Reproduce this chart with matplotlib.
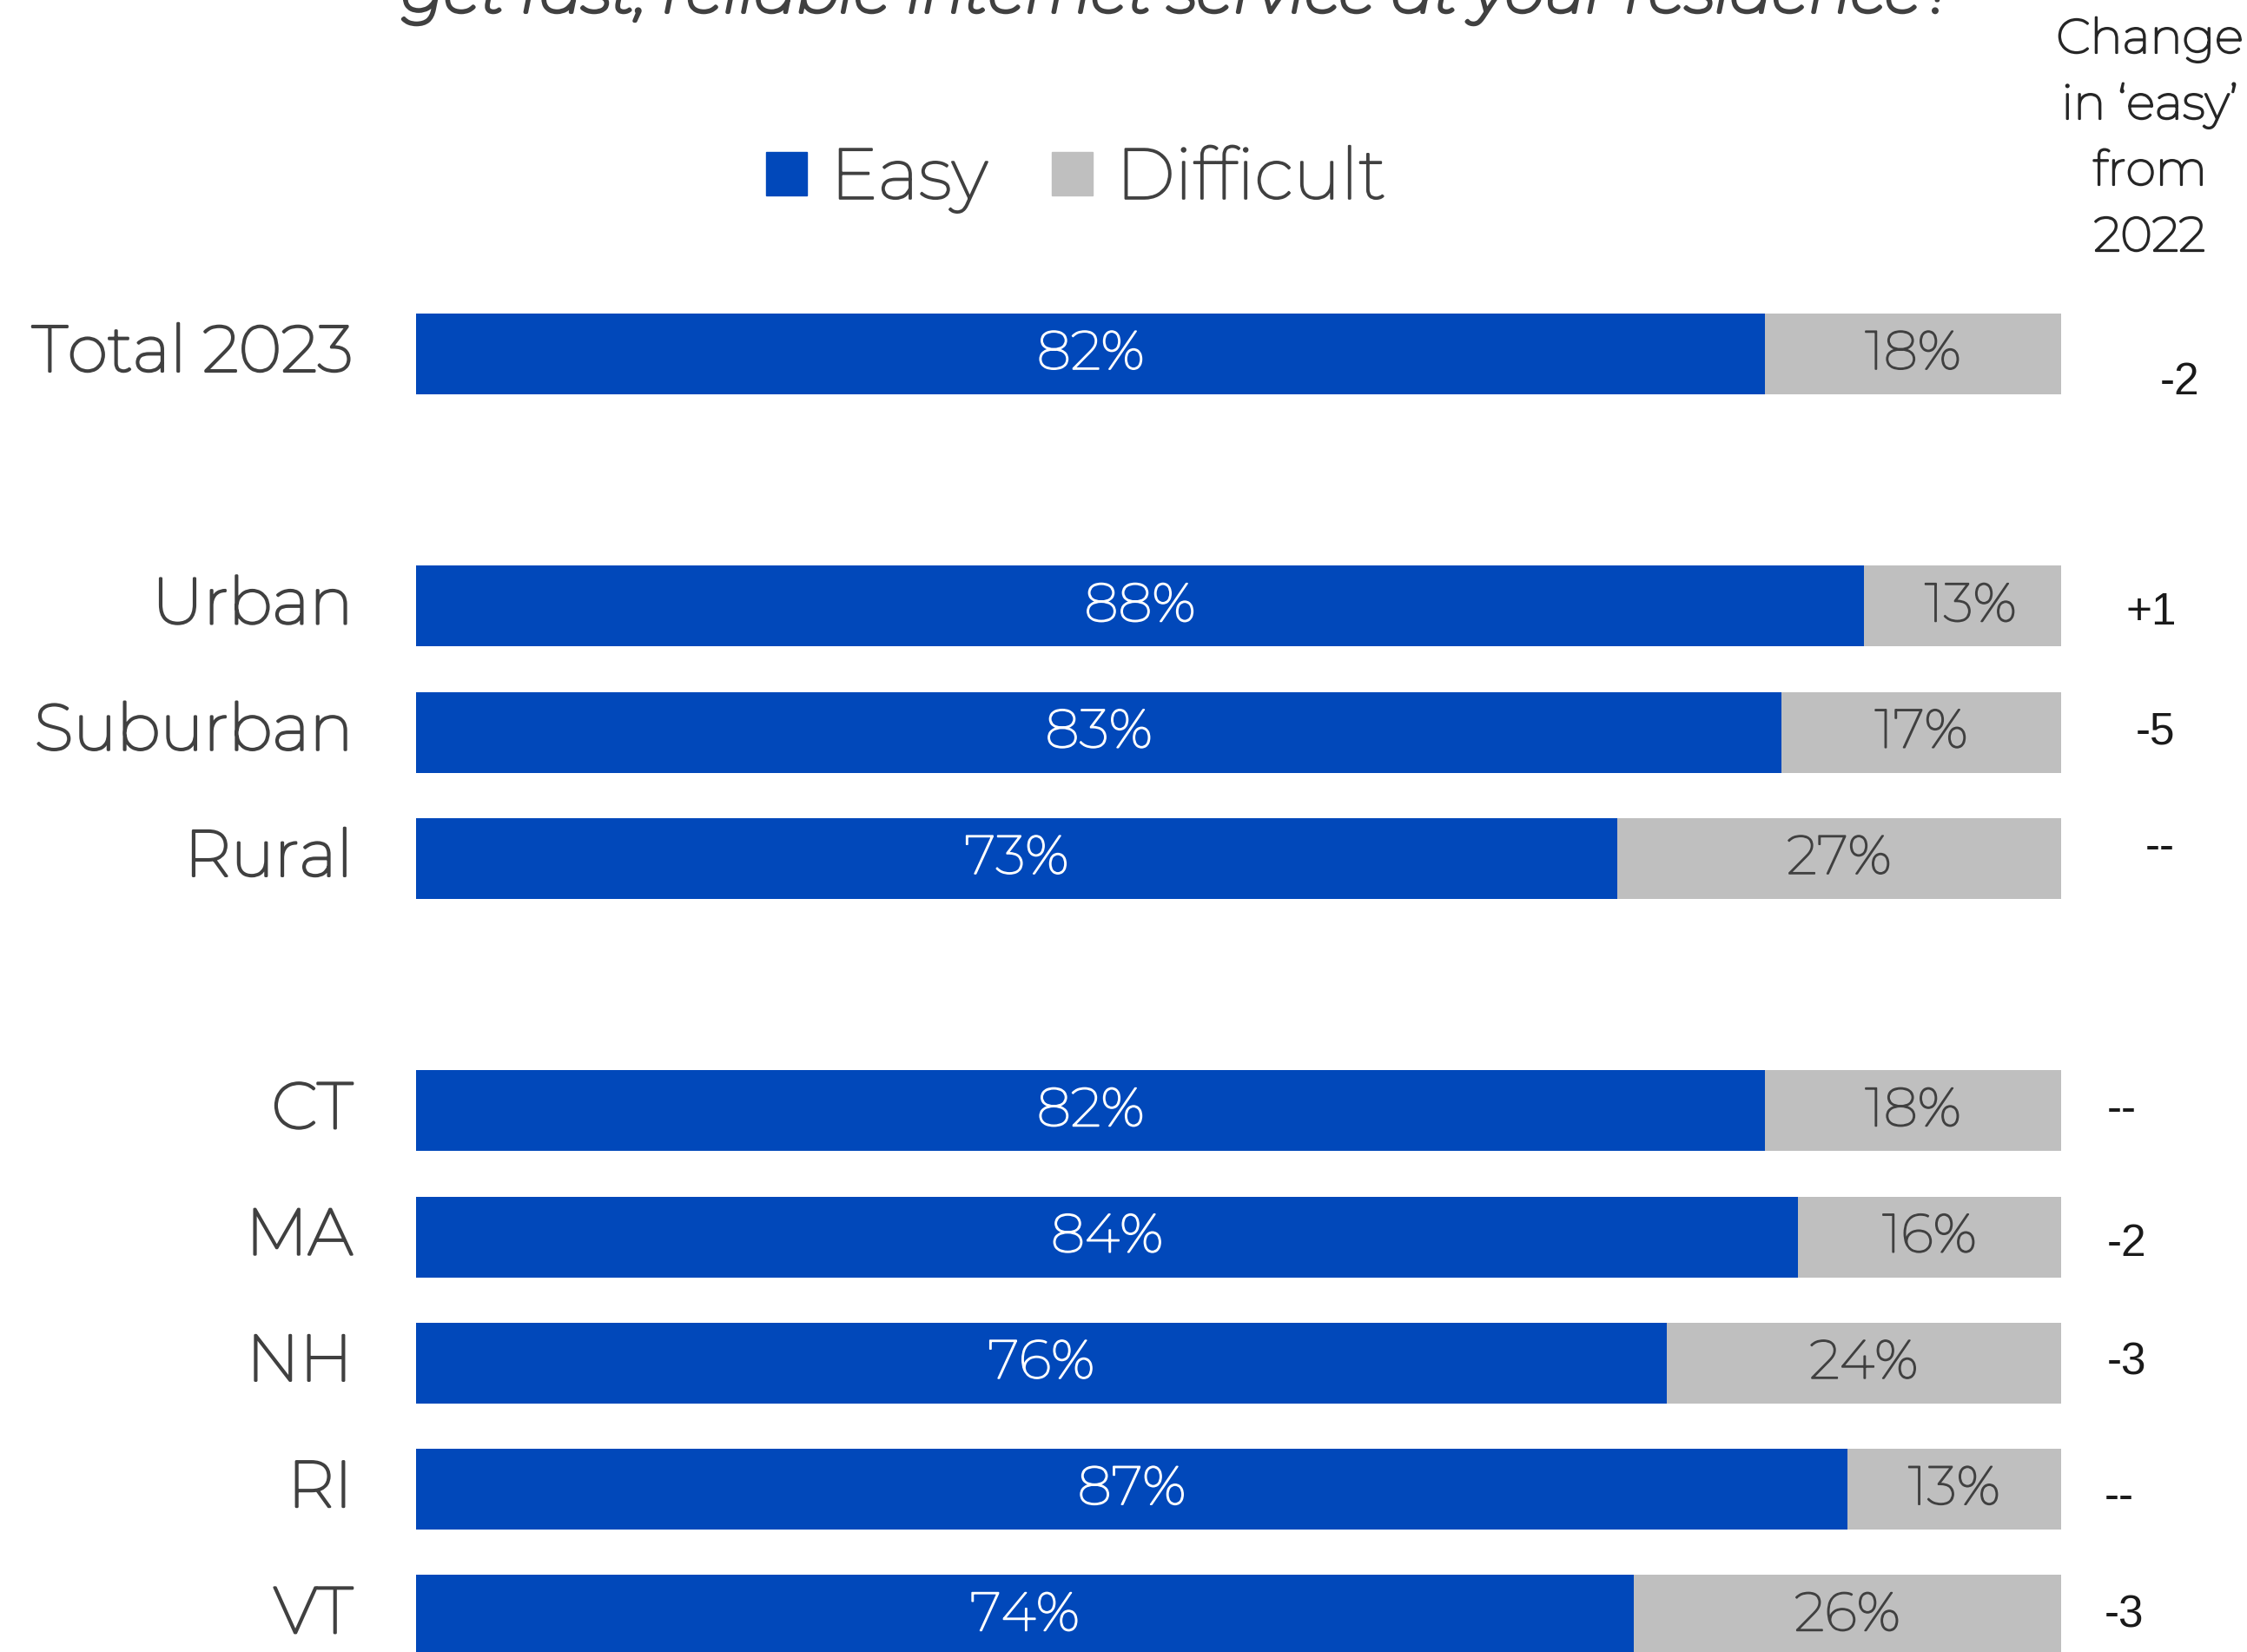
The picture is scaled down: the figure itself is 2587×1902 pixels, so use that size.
import matplotlib.pyplot as plt
import matplotlib.patheffects as pe
from matplotlib.patches import Patch

# Data
CATEGORIES = ['Total 2023', 'Urban', 'Suburban', 'Rural',
              'CT', 'MA', 'NH', 'RI', 'VT']
EASY = [82, 88, 83, 73, 82, 84, 76, 87, 74]
DIFFICULT = [18, 13, 17, 27, 18, 16, 24, 13, 26]
CHANGE = ['-2', '+1', '-5', '--', '--', '-2', '-3', '--', '-3']

# Layout: row slots (gaps between groups) and per-row change label placement
ROW_POS = [0, 2, 3, 4, 6, 7, 8, 9, 10]
CHANGE_X = [107.2, 105.5, 105.7, 106.0, 103.7, 104.0, 104.0, 103.5, 103.8]
CHANGE_DY = [0.23, 0.05, 0.0, -0.08, 0.0, 0.06, 0.0, 0.07, 0.0]

BLUE = '#0148BA'
GREY = '#BFBFBF'
TEXT = '#404040'
FONT = ['Montserrat', 'Open Sans', 'DejaVu Sans']


def bold(width, color):
    # the installed Montserrat renders very thin; thicken strokes a bit
    return [pe.withStroke(linewidth=width, foreground=color)]


fig = plt.figure(figsize=(25.87, 19.02), dpi=100)
ax = fig.add_axes([0.1852, 0.0, 0.7321, 0.9003])

bar_h = 0.64
ax.barh(ROW_POS, EASY, height=bar_h, color=BLUE, label='Easy')
ax.barh(ROW_POS, DIFFICULT, left=EASY, height=bar_h, color=GREY,
        label='Difficult')

for y, e, d in zip(ROW_POS, EASY, DIFFICULT):
    ax.text(e / 2, y, f'{e}%', ha='center', va='center', color='white',
            fontsize=45, family=FONT, path_effects=bold(1.2, 'white'))
    ax.text(e + d / 2, y, f'{d}%', ha='center', va='center', color=TEXT,
            fontsize=45, family=FONT, path_effects=bold(1.2, TEXT))

for y, lab in zip(ROW_POS, CATEGORIES):
    ax.text(-3.85, y, lab, ha='right', va='center', color=TEXT,
            fontsize=54, family=FONT, clip_on=False,
            path_effects=bold(1.9, TEXT))

for y, c, cx, dy in zip(ROW_POS, CHANGE, CHANGE_X, CHANGE_DY):
    ax.text(cx, y + dy, c, ha='center', va='center', color='#1a1a1a',
            fontsize=37, family=['Liberation Sans', 'DejaVu Sans'],
            clip_on=False)

ax.set_xlim(0, 100)
ax.set_ylim(10.29, -1.5)
ax.axis('off')

# Header for the change column
header = ['Change', 'in \u2018easy\u2019', 'from', '2022']
for i, line in enumerate(header):
    fig.text(2475 / 2587, 1 - (61 + 76 * i) / 1902, line, ha='center',
             va='baseline', color='#262626', fontsize=40, family=FONT,
             path_effects=bold(1.6, '#262626'))

# Title (only its second line is visible at the top edge)
title = fig.text(0.5245, 1 - 14 / 1902,
                 'get fast, reliable internet service at your residence?',
                 ha='center', va='baseline', color=TEXT, fontsize=44,
                 style='italic', family=FONT,
                 path_effects=bold(3.0, TEXT))
fig.canvas.draw()
w = title.get_window_extent().width
title.set_fontsize(44 * 1790 / w)

handles = [Patch(color=BLUE, label='Easy'), Patch(color=GREY, label='Difficult')]
leg = fig.legend(handles=handles, loc='center', bbox_to_anchor=(0.479, 0.8917),
                 ncol=2, frameon=False, handlelength=0.57,
                 handleheight=0.57, handletextpad=0.33, columnspacing=0.9,
                 prop={'family': FONT, 'size': 59})
for t in leg.get_texts():
    t.set_color(TEXT)
    t.set_path_effects(bold(1.6, TEXT))

fig.savefig('out.png', dpi=100, facecolor='white')
